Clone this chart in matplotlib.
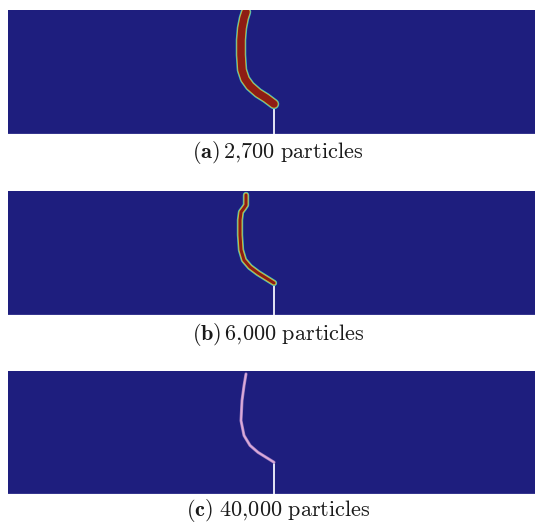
import matplotlib
matplotlib.use("Agg")
import matplotlib.pyplot as plt

plt.rcParams['mathtext.fontset'] = 'cm'

# Domain (panel) extents in arbitrary length units
domain_w = 527
domain_h = 124

# Notch (pre-crack) at bottom center
notch_x = [266, 266, 266]
notch_tip = [30, 32, 32]

# Crack paths for each resolution
crack_x_a = [266, 258, 250, 242, 237, 234, 233, 233, 234, 236, 238]
crack_y_a = [30, 36, 41, 48, 55, 64, 79, 94, 106, 116, 122]

crack_x_b = [266, 258, 250, 242, 236, 233, 232, 232, 233, 236, 238, 238]
crack_y_b = [32, 37, 42, 48, 55, 65, 80, 95, 103, 107, 110, 120]

crack_x_c = [266, 258, 250, 242, 236, 233, 234, 236, 238]
crack_y_c = [32, 37, 42, 49, 59, 74, 94, 109, 121]

labels = [r"$\mathbf{(a)}\,\mathrm{2{,}700\ particles}$",
          r"$\mathbf{(b)}\,\mathrm{6{,}000\ particles}$",
          r"$\mathbf{(c)}\ \mathrm{40{,}000\ particles}$"]

W, H = 535, 524
fig = plt.figure(figsize=(W / 100, H / 100), dpi=100)
fig.patch.set_facecolor('white')

panels = [(10, 134), (191, 315), (371, 494)]
caption_y = [153, 334, 510]
cracks = [(crack_x_a, crack_y_a), (crack_x_b, crack_y_b), (crack_x_c, crack_y_c)]
bg = '#1e1e7e'

for i, ((top, bot), (cx, cy)) in enumerate(zip(panels, cracks)):
    ax = fig.add_axes([8 / W, (H - bot) / H, 527 / W, (bot - top) / H])
    ax.set_facecolor(bg)
    ax.set_xlim(0, domain_w)
    ax.set_ylim(0, domain_h)
    ax.set_xticks([])
    ax.set_yticks([])
    for s in ax.spines.values():
        s.set_visible(False)
    ax.axhline(0, color='#9a9ad0', lw=1.0)
    # notch
    ax.plot([notch_x[i], notch_x[i]], [0, notch_tip[i]], color='#f4f4ff', lw=1.3,
            solid_capstyle='butt')
    if i == 0:
        styles = [('#3fb8c8', 7.6), ('#c8c040', 6.5), ('#8e1c14', 5.4)]
    elif i == 1:
        styles = [('#3fb8c8', 4.6), ('#c8c040', 3.6), ('#8e1c14', 2.2)]
    else:
        styles = [('#9a7cc0', 2.2), ('#dcaad8', 1.3)]
    for col, lw in styles:
        ax.plot(cx, cy, color=col, lw=lw, solid_capstyle='round',
                solid_joinstyle='round')
    fig.text(278 / W, 1 - caption_y[i] / H, labels[i], ha='center', va='center',
             fontsize=16, color='#1a1a1a')

fig.savefig('out.png', dpi=100, facecolor='white')
